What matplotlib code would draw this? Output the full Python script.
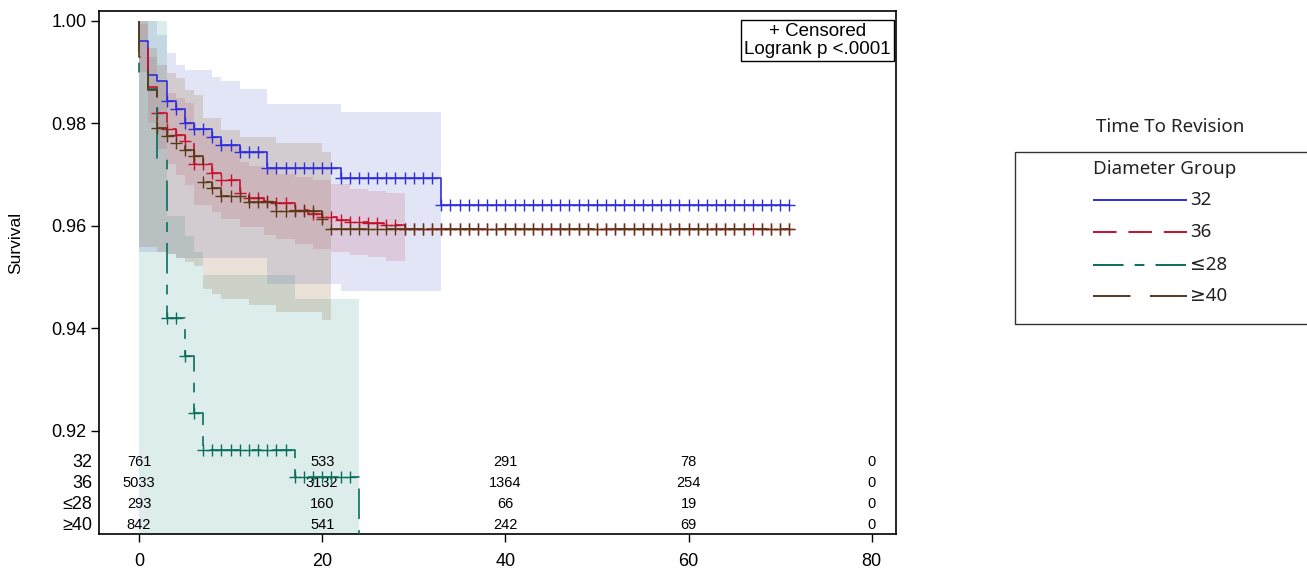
import numpy as np
import matplotlib
matplotlib.use("Agg")
import matplotlib.pyplot as plt
from matplotlib.lines import Line2D
from matplotlib.patches import Rectangle
from matplotlib.transforms import blended_transform_factory

plt.rcParams["font.family"] = ["Liberation Sans", "DejaVu Sans"]
plt.rcParams["lines.scale_dashes"] = False

# ---- data (time in months) ----
groups = ["32", "36", "≤28", "≥40"]

t_32 = [0, 0, 1, 2, 3, 4, 5, 6, 8, 9, 11, 14, 22, 33, 71]
s_32 = [1.0, 0.9960, 0.9895, 0.9882, 0.9843, 0.9829, 0.9800, 0.9789, 0.9774,
        0.9758, 0.9744, 0.9714, 0.9694, 0.9641, 0.9641]
cens_32 = [3, 4, 5, 6, 7, 8, 9, 10, 11, 12, 13, 14, 15, 16, 17, 18, 19, 20, 21,
           22, 23, 24, 25, 26, 27, 28, 29, 30, 31, 32, 33, 34, 35, 36, 37, 38,
           39, 40, 41, 42, 43, 44, 45, 46, 47, 48, 49, 50, 51, 52, 53, 54, 55,
           56, 57, 58, 59, 60, 61, 62, 63, 64, 65, 66, 67, 68, 69, 70, 71]

t_36 = [0, 0, 1, 2, 3, 4, 5, 6, 8, 9, 11, 12, 13.6, 15, 17, 18.5, 20, 21.6, 23,
        25, 26.7, 29, 71]
s_36 = [1.0, 0.9955, 0.9872, 0.9821, 0.9790, 0.9778, 0.9765, 0.9720, 0.9703,
        0.9690, 0.9664, 0.9654, 0.9649, 0.9644, 0.9631, 0.9623, 0.9618, 0.9612,
        0.9608, 0.9605, 0.9602, 0.9594, 0.9594]
cens_36 = [2, 3, 4, 5, 6, 7, 8, 9, 10, 11, 12, 13, 14, 15, 16, 17, 18, 19, 20,
           21, 22, 23, 24, 25, 26, 27, 28, 29, 30, 31, 32, 33, 34, 35, 36, 37,
           38, 39, 40, 41, 42, 43, 44, 45, 46, 47, 48, 49, 50, 51, 52, 53, 54,
           55, 56, 57, 58, 59, 60, 61, 62, 63, 64, 65, 66, 67, 68, 69, 70, 71]

t_28 = [0, 0, 1, 2, 3, 5, 6, 7, 17, 24, 24]
s_28 = [1.0, 0.9901, 0.9868, 0.9730, 0.9420, 0.9346, 0.9236, 0.9163, 0.9110,
        0.85, 0.85]
cens_28 = [3, 4, 5, 6, 7, 8, 9, 10, 11, 12, 13, 14, 15, 16, 17, 18, 19, 20, 21,
           22, 23]

t_40 = [0, 0, 1, 2, 3, 4, 5, 6, 7, 8, 9, 12, 15, 20, 21, 71]
s_40 = [1.0, 0.9930, 0.9866, 0.9791, 0.9776, 0.9761, 0.9749, 0.9737, 0.9686,
        0.9674, 0.9659, 0.9647, 0.9630, 0.9613, 0.9594, 0.9594]
cens_40 = [2, 3, 4, 5, 6, 7, 8, 9, 10, 11, 12, 13, 14, 15, 16, 17, 18, 19, 20,
           21, 22, 23, 24, 25, 26, 27, 28, 29, 30, 31, 32, 33, 34, 35, 36, 37,
           38, 39, 40, 41, 42, 43, 44, 45, 46, 47, 48, 49, 50, 51, 52, 53, 54,
           55, 56, 57, 58, 59, 60, 61, 62, 63, 64, 65, 66, 68, 69, 70, 71]

# confidence bands: segment edges, upper, lower
band_t_32 = [0, 2, 3, 4, 5, 6, 8, 9, 11, 14, 22, 33]
band_hi_32 = [1.0, 0.9973, 0.9937, 0.9914, 0.9904, 0.9904, 0.9891, 0.9882,
              0.9867, 0.9839, 0.9823]
band_lo_32 = [0.9550, 0.9550, 0.9545, 0.9537, 0.9537, 0.9537, 0.9537, 0.9537,
              0.9537, 0.9487, 0.9474]

band_t_36 = [0, 1, 2, 3, 4, 5, 6, 8, 9, 11, 12, 13.6, 15, 17, 19, 21, 23, 25,
             27, 29]
band_hi_36 = [0.9995, 0.993, 0.988, 0.986, 0.985, 0.984, 0.9785, 0.977, 0.976,
              0.9724, 0.9718, 0.9711, 0.9702, 0.9695, 0.9689, 0.9682, 0.9672,
              0.9668, 0.9664]
band_lo_36 = [0.990, 0.980, 0.975, 0.972, 0.970, 0.968, 0.9640, 0.9627, 0.9614,
              0.9598, 0.9598, 0.9582, 0.9575, 0.9565, 0.9556, 0.9550, 0.9544,
              0.9539, 0.9531]

band_t_28 = [0, 3, 5, 6, 7, 17, 24]
band_hi_28 = [1.0, 0.962, 0.958, 0.955, 0.9504, 0.9458]
band_lo_28 = [0.85, 0.85, 0.85, 0.85, 0.85, 0.85]

band_t_40 = [0, 1, 2, 3, 4, 5, 6, 7, 8, 9, 11, 12, 15, 20, 21]
band_hi_40 = [1.0, 0.9947, 0.9915, 0.9898, 0.9888, 0.9865, 0.9856, 0.9810,
              0.9810, 0.9787, 0.9774, 0.9774, 0.9761, 0.9744]
band_lo_40 = [0.9559, 0.9559, 0.9550, 0.9545, 0.9537, 0.9530, 0.9521, 0.9478,
              0.9468, 0.9458, 0.9458, 0.9445, 0.9432, 0.9416]

# number at risk
risk_times = [0, 20, 40, 60, 80]
risk_32 = [761, 533, 291, 78, 0]
risk_36 = [5033, 3132, 1364, 254, 0]
risk_28 = [293, 160, 66, 19, 0]
risk_40 = [842, 541, 242, 69, 0]

# ---- styling ----
line_cols = ["#2E2EDB", "#C8102E", "#0A6E5E", "#5A3818"]
band_cols = ["#4D5FC2", "#C03050", "#1A8A7A", "#8B5A2B"]
band_alpha = [0.16, 0.15, 0.15, 0.18]
dash_styles = [(0, ()), (0, (17, 8.5)), (0, (22, 8, 7, 8)), (0, (27, 14))]

W, H = 1307, 569
fig = plt.figure(figsize=(W / 100, H / 100), dpi=100)
ax = fig.add_axes([99 / W, 1 - 534 / H, 797 / W, 523 / H])

curves = [(t_32, s_32, cens_32), (t_36, s_36, cens_36),
          (t_28, s_28, cens_28), (t_40, s_40, cens_40)]
bands = [(band_t_32, band_hi_32, band_lo_32), (band_t_36, band_hi_36, band_lo_36),
         (band_t_28, band_hi_28, band_lo_28), (band_t_40, band_hi_40, band_lo_40)]

for i, (bt, bh, bl) in enumerate(bands):
    ax.fill_between(bt, bl + [bl[-1]], bh + [bh[-1]], step="post",
                    color=band_cols[i], alpha=band_alpha[i], lw=0, zorder=1)

for i, (t, s, cens) in enumerate(curves):
    ax.step(t, s, where="post", color=line_cols[i], lw=1.2,
            linestyle=dash_styles[i], zorder=3 + i)
    t_arr = np.array(t)
    s_arr = np.array(s)
    idx = np.searchsorted(t_arr, cens, side="right") - 1
    ax.plot(cens, s_arr[idx], linestyle="none", marker="+", ms=8.5, mew=1.0,
            color=line_cols[i], zorder=3 + i)

ax.set_xlim(-4.37, 82.65)
ax.set_ylim(0.8999, 1.00195)
ax.set_xticks([0, 20, 40, 60, 80])
ax.set_yticks([0.92, 0.94, 0.96, 0.98, 1.00])
ax.set_yticklabels(["0.92", "0.94", "0.96", "0.98", "1.00"])
ax.tick_params(axis="both", labelsize=13, length=6, width=1, direction="out")
ax.tick_params(axis="x", pad=7.5)
ax.tick_params(axis="y", pad=3)
for sp in ax.spines.values():
    sp.set_linewidth(1.2)

fig.text(16 / W, 1 - 243 / H, "Survival", rotation=90, ha="center",
         va="center", fontsize=12.5)

# censor / logrank box
ax.text(0.9935, 0.978, "+ Censored\nLogrank p <.0001", transform=ax.transAxes,
        ha="right", va="top", multialignment="center", fontsize=13.5,
        linespacing=1.1,
        bbox=dict(boxstyle="square,pad=0.15", fc="white", ec="black", lw=1))

# at-risk table
tr = blended_transform_factory(ax.transData, ax.transAxes)
row_y = [0.1375, 0.0973, 0.0572, 0.017]
for r, (lab, vals) in enumerate(zip(groups, [risk_32, risk_36, risk_28, risk_40])):
    for tt, v in zip(risk_times, vals):
        ax.text(tt, row_y[r], str(v), transform=tr, ha="center", va="center",
                fontsize=10.5)
    ax.text(-0.008, row_y[r], lab, transform=ax.transAxes, ha="right",
            va="center", fontsize=13)

# legend drawn outside the axes
lf = ["Noto Sans", "DejaVu Sans"]
fig.text(1170 / W, 1 - 127 / H, "Time To Revision", ha="center", va="center",
         fontsize=13.5, family=lf, color="#222222")
fig.add_artist(Rectangle((1015 / W, 1 - 324 / H), 300 / W, 172 / H,
                         transform=fig.transFigure, fill=False, ec="#333333",
                         lw=1.0))
fig.text(1093 / W, 1 - 169 / H, "Diameter Group", ha="left", va="center",
         fontsize=13.5, family=lf, color="#222222")
leg_y = [200, 232, 265, 296]
for i, lab in enumerate(groups):
    yy = 1 - leg_y[i] / H
    fig.add_artist(Line2D([1093 / W, 1187 / W], [yy, yy],
                          transform=fig.transFigure, color=line_cols[i],
                          lw=1.4, linestyle=dash_styles[i]))
    fig.text(1190 / W, yy, lab, ha="left", va="center", fontsize=13.5,
             family=lf, color="#222222")

fig.savefig("out.png", dpi=100)
